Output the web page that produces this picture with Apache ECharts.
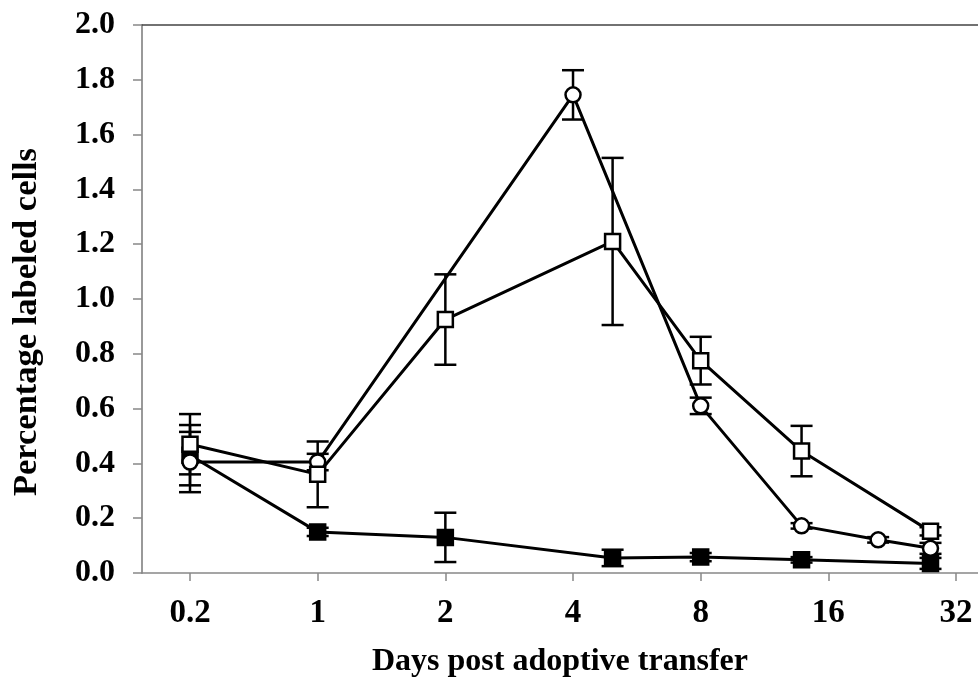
<!DOCTYPE html>
<html><head><meta charset="utf-8">
<script src="https://cdn.jsdelivr.net/npm/echarts@6/dist/echarts.min.js"></script>
<style>html,body{margin:0;padding:0;background:#fff}#c{width:978px;height:697px}</style>
</head><body><div id="c"></div>
<script>
// x positions are in axis units: tick i is labelled xTickLabels[i]
const xTickPositions = [0, 1, 2, 3, 4, 5, 6];
const xTickLabels = ['0.2', '1', '2', '4', '8', '16', '32'];

// Open squares
const openSquareX   = [0, 1, 2, 3.31, 4, 4.79, 5.8];
const openSquareY   = [0.47, 0.36, 0.925, 1.21, 0.775, 0.445, 0.152];
const openSquareErr = [0.11, 0.12, 0.165, 0.305, 0.087, 0.092, 0.015];

// Open circles
const openCircleX   = [0, 1, 3, 4, 4.79, 5.39, 5.8];
const openCircleY   = [0.405, 0.405, 1.745, 0.61, 0.172, 0.121, 0.09];
const openCircleErr = [0.11, 0.03, 0.09, 0.03, 0.01, 0.01, 0.02];

// Filled squares
const filledSquareX   = [0, 1, 2, 3.31, 4, 4.79, 5.8];
const filledSquareY   = [0.43, 0.15, 0.13, 0.055, 0.058, 0.048, 0.035];
const filledSquareErr = [0.11, 0.015, 0.09, 0.03, 0.015, 0.01, 0.02];

const FONT = 'Liberation Serif';

function errSeries(xs, ys, es) {
  return {
    type: 'custom',
    silent: true,
    z: 1,
    encode: { x: 0, y: [1, 2] },
    data: xs.map((x, i) => [x, ys[i] - es[i], ys[i] + es[i]]),
    renderItem(params, api) {
      const lo = api.coord([api.value(0), api.value(1)]);
      const hi = api.coord([api.value(0), api.value(2)]);
      const w = 11;
      const style = { stroke: '#000', lineWidth: 2.5 };
      return {
        type: 'group',
        children: [
          { type: 'line', shape: { x1: lo[0], y1: lo[1], x2: hi[0], y2: hi[1] }, style },
          { type: 'line', shape: { x1: lo[0] - w, y1: lo[1], x2: lo[0] + w, y2: lo[1] }, style },
          { type: 'line', shape: { x1: hi[0] - w, y1: hi[1], x2: hi[0] + w, y2: hi[1] }, style }
        ]
      };
    }
  };
}

function lineSeries(name, xs, ys, symbol, size, fill) {
  return {
    name,
    type: 'line',
    z: 3,
    data: xs.map((x, i) => [x, ys[i]]),
    symbol,
    symbolSize: size,
    showAllSymbol: true,
    lineStyle: { color: '#000', width: 3 },
    itemStyle: { color: fill, borderColor: '#000', borderWidth: 2.5 },
    emphasis: { disabled: true }
  };
}

const chart = echarts.init(document.getElementById('c'), null, { renderer: 'canvas' });
chart.setOption({
  animation: false,
  backgroundColor: '#fff',
  grid: { left: 142, right: 0, top: 25, bottom: 124, containLabel: false },
  xAxis: [{
    type: 'value',
    min: -0.376,
    max: 6.172,
    position: 'bottom',
    splitLine: { show: false },
    axisLine: { show: true, onZero: false, lineStyle: { color: '#888', width: 1.5 } },
    axisTick: { show: true, customValues: xTickPositions, length: 8, lineStyle: { color: '#888', width: 1.5 } },
    axisLabel: {
      customValues: xTickPositions,
      formatter: v => xTickLabels[Math.round(v)],
      margin: 24,
      fontFamily: FONT, fontWeight: 'bold', fontSize: 33, color: '#000'
    },
    name: 'Days post adoptive transfer',
    nameLocation: 'middle',
    nameGap: 73,
    nameTextStyle: { fontFamily: FONT, fontWeight: 'bold', fontSize: 32, color: '#000' }
  }, {
    type: 'value',
    min: -0.376,
    max: 6.172,
    position: 'top',
    splitLine: { show: false },
    axisLine: { show: true, onZero: false, lineStyle: { color: '#444', width: 1.5 } },
    axisTick: { show: false },
    axisLabel: { show: false }
  }],
  yAxis: {
    type: 'value',
    min: 0,
    max: 2,
    interval: 0.2,
    splitLine: { show: false },
    axisLine: { show: true, onZero: false, lineStyle: { color: '#999', width: 2 } },
    axisTick: { show: true, length: 9, lineStyle: { color: '#888', width: 1.5 } },
    axisLabel: {
      formatter: v => v.toFixed(1),
      margin: 27,
      fontFamily: FONT, fontWeight: 'bold', fontSize: 32, color: '#000'
    },
    name: 'Percentage labeled cells',
    nameLocation: 'middle',
    nameGap: 97,
    nameTextStyle: { fontFamily: FONT, fontWeight: 'bold', fontSize: 34.5, color: '#000', padding: [0, 46, 0, 0] }
  },
  series: [
    errSeries(filledSquareX, filledSquareY, filledSquareErr),
    errSeries(openCircleX, openCircleY, openCircleErr),
    errSeries(openSquareX, openSquareY, openSquareErr),
    lineSeries('filledSquare', filledSquareX, filledSquareY, 'rect', 15, '#000'),
    lineSeries('openCircle', openCircleX, openCircleY, 'circle', 15, '#fff'),
    lineSeries('openSquare', openSquareX, openSquareY, 'rect', 15, '#fff')
  ]
});
</script>
</body></html>
